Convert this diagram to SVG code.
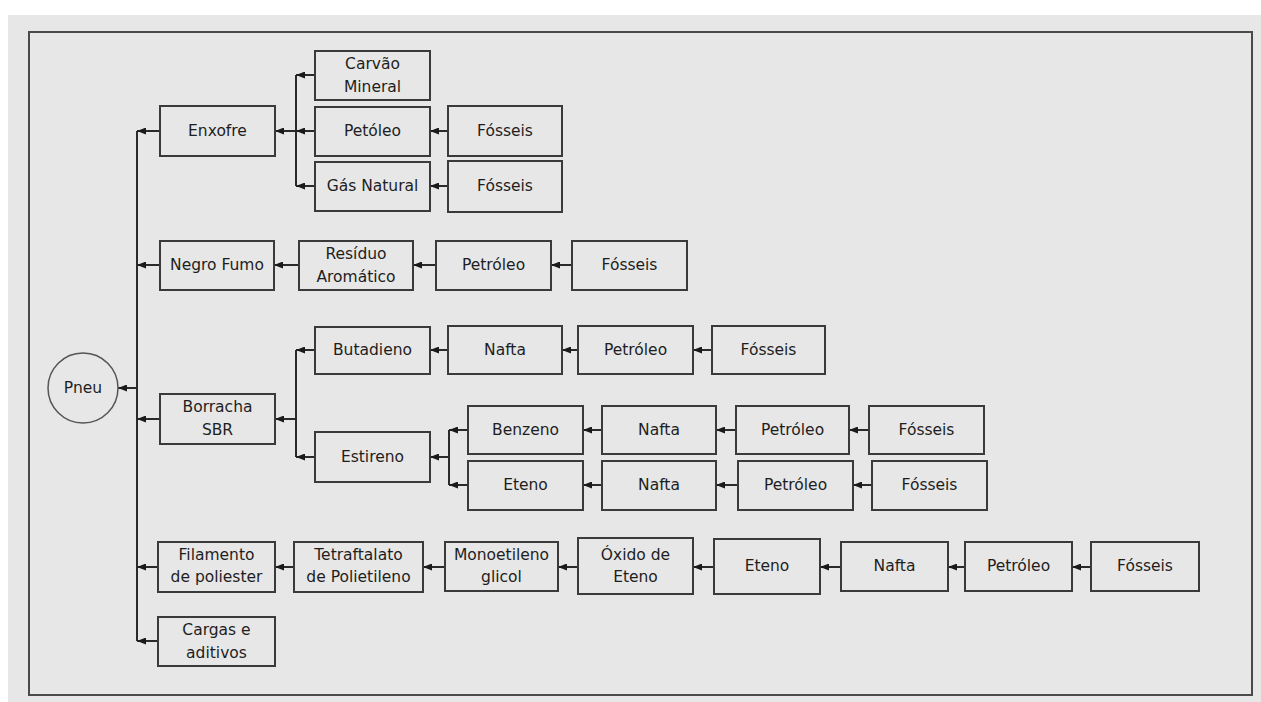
<svg xmlns="http://www.w3.org/2000/svg" width="1261" height="702" viewBox="0 0 1261 702">
<defs>
<marker id="ah" markerUnits="userSpaceOnUse" markerWidth="9" markerHeight="7" refX="9" refY="3.5" orient="auto">
<path d="M0,0 L9,3.5 L0,7 z" fill="#1a1a1a"/>
</marker>
<style>
.box{fill:#e7e7e7;stroke:#3a3a3a;stroke-width:2}
.t{font-family:"DejaVu Sans",Verdana,sans-serif;font-size:15.5px;fill:#1e1e1e;text-anchor:middle;dominant-baseline:central}
.c line{stroke:#2a2a2a;stroke-width:2;fill:none}
.c line.a{marker-end:url(#ah)}
</style>
</defs>
<rect x="0" y="0" width="1261" height="702" fill="#ffffff"/>
<rect x="8" y="15" width="1253" height="687" fill="#e7e7e7"/>
<rect x="29" y="32" width="1223" height="663" fill="none" stroke="#4a4a4a" stroke-width="2"/>

<g class="c" id="connectors">
<line x1="137" y1="131" x2="137" y2="641"/>
<line class="a" x1="137" y1="388" x2="118" y2="388"/>
<line class="a" x1="160" y1="131" x2="137" y2="131"/>
<line class="a" x1="160" y1="265" x2="137" y2="265"/>
<line class="a" x1="160" y1="419" x2="137" y2="419"/>
<line class="a" x1="158" y1="567" x2="137" y2="567"/>
<line class="a" x1="158" y1="641" x2="137" y2="641"/>

<line x1="296" y1="75" x2="296" y2="186"/>
<line class="a" x1="296" y1="131" x2="275" y2="131"/>
<line class="a" x1="315" y1="75" x2="296" y2="75"/>
<line class="a" x1="315" y1="131" x2="296" y2="131"/>
<line class="a" x1="315" y1="186" x2="296" y2="186"/>
<line class="a" x1="448" y1="131" x2="430" y2="131"/>
<line class="a" x1="448" y1="186" x2="430" y2="186"/>

<line class="a" x1="299" y1="265" x2="274" y2="265"/>
<line class="a" x1="436" y1="265" x2="413" y2="265"/>
<line class="a" x1="572" y1="265" x2="551" y2="265"/>

<line x1="296" y1="350" x2="296" y2="457"/>
<line class="a" x1="296" y1="419" x2="275" y2="419"/>
<line class="a" x1="315" y1="350" x2="296" y2="350"/>
<line class="a" x1="315" y1="457" x2="296" y2="457"/>
<line class="a" x1="448" y1="350" x2="430" y2="350"/>
<line class="a" x1="578" y1="350" x2="562" y2="350"/>
<line class="a" x1="712" y1="350" x2="693" y2="350"/>

<line x1="449" y1="430" x2="449" y2="485"/>
<line class="a" x1="449" y1="457" x2="430" y2="457"/>
<line class="a" x1="468" y1="430" x2="449" y2="430"/>
<line class="a" x1="468" y1="485" x2="449" y2="485"/>
<line class="a" x1="602" y1="430" x2="583" y2="430"/>
<line class="a" x1="736" y1="430" x2="716" y2="430"/>
<line class="a" x1="869" y1="430" x2="849" y2="430"/>
<line class="a" x1="602" y1="485" x2="583" y2="485"/>
<line class="a" x1="738" y1="485" x2="716" y2="485"/>
<line class="a" x1="872" y1="485" x2="853" y2="485"/>

<line class="a" x1="294" y1="567" x2="275" y2="567"/>
<line class="a" x1="445" y1="567" x2="423" y2="567"/>
<line class="a" x1="578" y1="567" x2="558" y2="567"/>
<line class="a" x1="714" y1="567" x2="693" y2="567"/>
<line class="a" x1="841" y1="567" x2="820" y2="567"/>
<line class="a" x1="965" y1="567" x2="948" y2="567"/>
<line class="a" x1="1091" y1="567" x2="1072" y2="567"/>
</g>

<g id="pneu"><circle cx="83" cy="388" r="35" fill="#e7e7e7" stroke="#555" stroke-width="1.5"/><text class="t" x="83" y="388">Pneu</text></g>

<g id="enxofre"><rect class="box" x="160" y="106" width="115" height="50"/><text class="t" x="217.5" y="131">Enxofre</text></g>
<g id="carvao"><rect class="box" x="315" y="51" width="115" height="49"/><text class="t" x="372.5" y="64">Carvão</text><text class="t" x="372.5" y="87">Mineral</text></g>
<g id="petoleo1"><rect class="box" x="315" y="107" width="115" height="49"/><text class="t" x="372.5" y="131">Petóleo</text></g>
<g id="gas"><rect class="box" x="315" y="162" width="115" height="49"/><text class="t" x="372.5" y="186">Gás Natural</text></g>
<g id="fosseis1"><rect class="box" x="448" y="106" width="114" height="50"/><text class="t" x="505" y="131">Fósseis</text></g>
<g id="fosseis2"><rect class="box" x="448" y="161" width="114" height="51"/><text class="t" x="505" y="186">Fósseis</text></g>

<g id="negro"><rect class="box" x="160" y="241" width="114" height="49"/><text class="t" x="217" y="265">Negro Fumo</text></g>
<g id="residuo"><rect class="box" x="299" y="241" width="114" height="49"/><text class="t" x="356" y="254">Resíduo</text><text class="t" x="356" y="277">Aromático</text></g>
<g id="petroleo2"><rect class="box" x="436" y="241" width="115" height="49"/><text class="t" x="493.5" y="265">Petróleo</text></g>
<g id="fosseis3"><rect class="box" x="572" y="241" width="115" height="49"/><text class="t" x="629.5" y="265">Fósseis</text></g>

<g id="borracha"><rect class="box" x="160" y="394" width="115" height="50"/><text class="t" x="217.5" y="407">Borracha</text><text class="t" x="217.5" y="430">SBR</text></g>
<g id="butadieno"><rect class="box" x="315" y="327" width="115" height="47"/><text class="t" x="372.5" y="350">Butadieno</text></g>
<g id="nafta1"><rect class="box" x="448" y="326" width="114" height="48"/><text class="t" x="505" y="350">Nafta</text></g>
<g id="petroleo3"><rect class="box" x="578" y="326" width="115" height="48"/><text class="t" x="635.5" y="350">Petróleo</text></g>
<g id="fosseis4"><rect class="box" x="712" y="326" width="113" height="48"/><text class="t" x="768.5" y="350">Fósseis</text></g>

<g id="estireno"><rect class="box" x="315" y="432" width="115" height="50"/><text class="t" x="372.5" y="457">Estireno</text></g>
<g id="benzeno"><rect class="box" x="468" y="406" width="115" height="48"/><text class="t" x="525.5" y="430">Benzeno</text></g>
<g id="nafta2"><rect class="box" x="602" y="406" width="114" height="48"/><text class="t" x="659" y="430">Nafta</text></g>
<g id="petroleo4"><rect class="box" x="736" y="406" width="113" height="48"/><text class="t" x="792.5" y="430">Petróleo</text></g>
<g id="fosseis5"><rect class="box" x="869" y="406" width="115" height="48"/><text class="t" x="926.5" y="430">Fósseis</text></g>
<g id="eteno1"><rect class="box" x="468" y="461" width="115" height="49"/><text class="t" x="525.5" y="485">Eteno</text></g>
<g id="nafta3"><rect class="box" x="602" y="461" width="114" height="49"/><text class="t" x="659" y="485">Nafta</text></g>
<g id="petroleo5"><rect class="box" x="738" y="461" width="115" height="49"/><text class="t" x="795.5" y="485">Petróleo</text></g>
<g id="fosseis6"><rect class="box" x="872" y="461" width="115" height="49"/><text class="t" x="929.5" y="485">Fósseis</text></g>

<g id="filamento"><rect class="box" x="158" y="542" width="117" height="50"/><text class="t" x="216.5" y="555">Filamento</text><text class="t" x="216.5" y="577">de poliester</text></g>
<g id="tetraftalato"><rect class="box" x="294" y="542" width="129" height="50"/><text class="t" x="358.5" y="555">Tetraftalato</text><text class="t" x="358.5" y="577">de Polietileno</text></g>
<g id="monoetileno"><rect class="box" x="445" y="542" width="113" height="49"/><text class="t" x="501.5" y="555">Monoetileno</text><text class="t" x="501.5" y="577">glicol</text></g>
<g id="oxido"><rect class="box" x="578" y="538" width="115" height="56"/><text class="t" x="635.5" y="555">Óxido de</text><text class="t" x="635.5" y="577">Eteno</text></g>
<g id="eteno2"><rect class="box" x="714" y="539" width="106" height="55"/><text class="t" x="767" y="566">Eteno</text></g>
<g id="nafta4"><rect class="box" x="841" y="542" width="107" height="49"/><text class="t" x="894.5" y="566">Nafta</text></g>
<g id="petroleo6"><rect class="box" x="965" y="542" width="107" height="49"/><text class="t" x="1018.5" y="566">Petróleo</text></g>
<g id="fosseis7"><rect class="box" x="1091" y="542" width="108" height="49"/><text class="t" x="1145" y="566">Fósseis</text></g>

<g id="cargas"><rect class="box" x="158" y="617" width="117" height="49"/><text class="t" x="216.5" y="630">Cargas e</text><text class="t" x="216.5" y="653">aditivos</text></g>
</svg>
